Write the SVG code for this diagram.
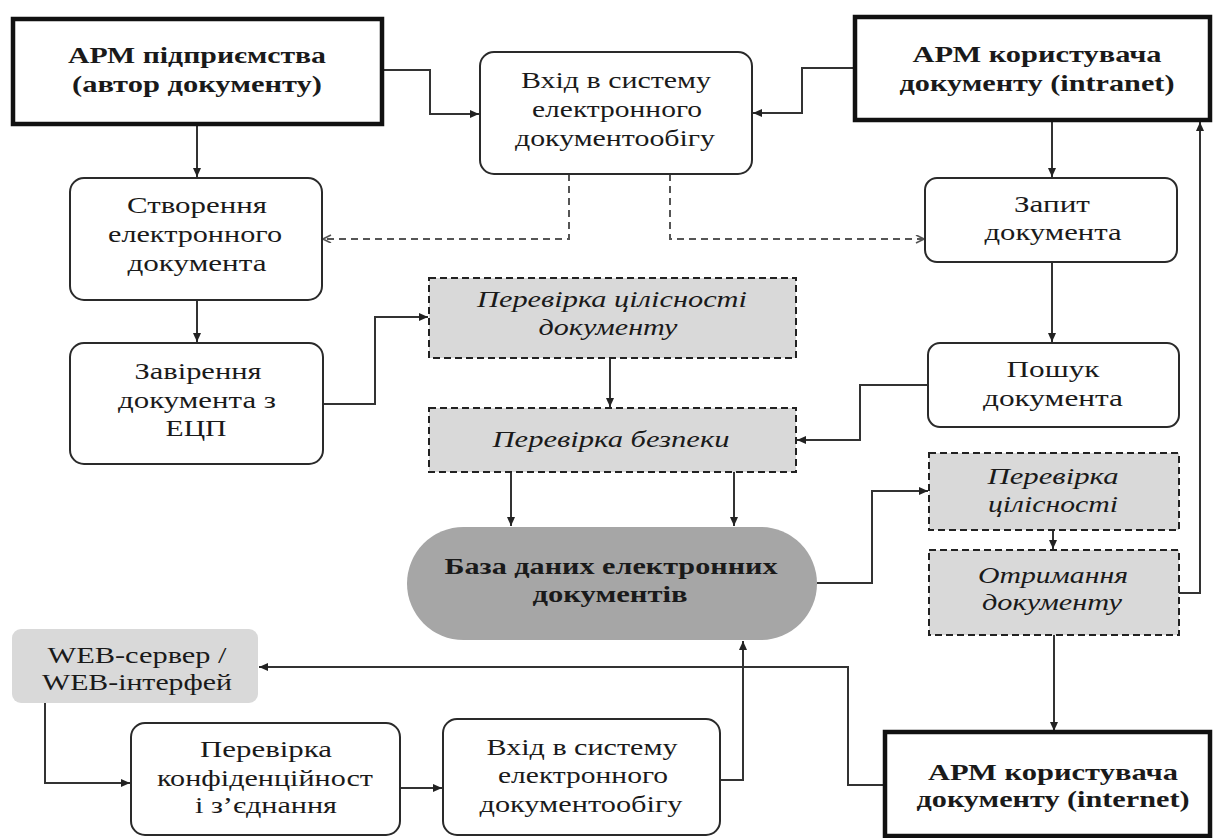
<svg xmlns="http://www.w3.org/2000/svg" width="1213" height="838" viewBox="0 0 1213 838">
  <style>
    .t { font-family: "Liberation Serif", "DejaVu Serif", serif; font-size: 24px; fill: #1a1a1a; text-anchor: middle; }
    .b { font-weight: bold; }
    .i { font-style: italic; }
    .main { fill: #ffffff; stroke: #111111; stroke-width: 4.5; }
    .step { fill: #ffffff; stroke: #2a2a2a; stroke-width: 2; }
    .check { fill: #d9d9d9; stroke: #222222; stroke-width: 2; stroke-dasharray: 7 4; }
    .db { fill: #a6a6a6; }
    .web { fill: #d9d9d9; }
    .ln { fill: none; stroke: #333333; stroke-width: 2; marker-end: url(#arr); }
    .dash { fill: none; stroke: #555555; stroke-width: 2; stroke-dasharray: 7 5; marker-end: url(#arrOpen); }
  </style>
  <defs>
    <marker id="arr" markerUnits="userSpaceOnUse" markerWidth="10" markerHeight="10" refX="9" refY="4" orient="auto">
      <path d="M0,0 L9,4 L0,8 z" fill="#222222"/>
    </marker>
    <marker id="arrOpen" markerUnits="userSpaceOnUse" markerWidth="10" markerHeight="10" refX="9" refY="4" orient="auto">
      <path d="M1,0 L9,4 L1,8" fill="none" stroke="#555555" stroke-width="1.6"/>
    </marker>
  </defs>

  <rect width="1213" height="838" fill="#ffffff"/>

  <!-- connectors -->
  <g id="connectors">
    <path class="ln" d="M382,70 H430 V114 H479"/>
    <path class="ln" d="M855,68 H802 V113 H753"/>
    <path class="dash" d="M569,174 V239 H323"/>
    <path class="dash" d="M670,174 V239 H924"/>
    <path class="ln" d="M197,124 V177"/>
    <path class="ln" d="M197,300 V342"/>
    <path class="ln" d="M323,404 H375 V317 H428"/>
    <path class="ln" d="M610,358 V407"/>
    <path class="ln" d="M1052,120 V177"/>
    <path class="ln" d="M1052,262 V342"/>
    <path class="ln" d="M928,385 H860 V440 H797"/>
    <path class="ln" d="M511,472 V526"/>
    <path class="ln" d="M734,472 V526"/>
    <path class="ln" d="M817,583 H872 V491 H928"/>
    <path class="ln" d="M1053,530 V549"/>
    <path class="ln" d="M1179,593 H1200 V122"/>
    <path class="ln" d="M1054,635 V731"/>
    <path class="ln" d="M885,785 H848 V667 H259"/>
    <path class="ln" d="M45,703 V783 H130"/>
    <path class="ln" d="M400,788 H442"/>
    <path class="ln" d="M720,780 H743 V641"/>
  </g>

  <g id="arm-enterprise">
    <rect class="main" x="13" y="19" width="369" height="105"/>
    <text class="t b" x="197" y="63" textLength="258" lengthAdjust="spacingAndGlyphs">АРМ підприємства</text>
    <text class="t b" x="197" y="92" textLength="250" lengthAdjust="spacingAndGlyphs">(автор документу)</text>
  </g>

  <g id="login-top">
    <rect class="step" x="480" y="52" width="272" height="122" rx="14"/>
    <text class="t" x="616" y="88" textLength="190" lengthAdjust="spacingAndGlyphs">Вхід в систему</text>
    <text class="t" x="617" y="117" textLength="170" lengthAdjust="spacingAndGlyphs">електронного</text>
    <text class="t" x="615" y="146" textLength="200" lengthAdjust="spacingAndGlyphs">документообігу</text>
  </g>

  <g id="arm-intranet">
    <rect class="main" x="855" y="17" width="355" height="103"/>
    <text class="t b" x="1037" y="62" textLength="249" lengthAdjust="spacingAndGlyphs">АРМ користувача</text>
    <text class="t b" x="1037" y="91" textLength="275" lengthAdjust="spacingAndGlyphs">документу (intranet)</text>
  </g>

  <g id="request">
    <rect class="step" x="925" y="178" width="252" height="84" rx="12"/>
    <text class="t" x="1052" y="212" textLength="76" lengthAdjust="spacingAndGlyphs">Запит</text>
    <text class="t" x="1053" y="240" textLength="137" lengthAdjust="spacingAndGlyphs">документа</text>
  </g>

  <g id="create">
    <rect class="step" x="70" y="178" width="252" height="122" rx="14"/>
    <text class="t" x="197" y="213" textLength="140" lengthAdjust="spacingAndGlyphs">Створення</text>
    <text class="t" x="195" y="242" textLength="174" lengthAdjust="spacingAndGlyphs">електронного</text>
    <text class="t" x="197" y="271" textLength="139" lengthAdjust="spacingAndGlyphs">документа</text>
  </g>

  <g id="sign">
    <rect class="step" x="70" y="343" width="253" height="121" rx="14"/>
    <text class="t" x="198" y="379" textLength="127" lengthAdjust="spacingAndGlyphs">Завірення</text>
    <text class="t" x="197" y="408" textLength="158" lengthAdjust="spacingAndGlyphs">документа з</text>
    <text class="t" x="196" y="436" textLength="61" lengthAdjust="spacingAndGlyphs">ЕЦП</text>
  </g>

  <g id="integrity-doc">
    <rect class="check" x="429" y="278" width="367" height="80"/>
    <text class="t i" x="612" y="307" textLength="270" lengthAdjust="spacingAndGlyphs">Перевірка цілісності</text>
    <text class="t i" x="608" y="335" textLength="139" lengthAdjust="spacingAndGlyphs">документу</text>
  </g>

  <g id="security">
    <rect class="check" x="429" y="408" width="367" height="64"/>
    <text class="t i" x="611" y="447" textLength="237" lengthAdjust="spacingAndGlyphs">Перевірка безпеки</text>
  </g>

  <g id="database">
    <rect class="db" x="407" y="527" width="410" height="113" rx="56.5"/>
    <text class="t b" x="611" y="574" textLength="333" lengthAdjust="spacingAndGlyphs">База даних електронних</text>
    <text class="t b" x="610" y="602" textLength="155" lengthAdjust="spacingAndGlyphs">документів</text>
  </g>

  <g id="search">
    <rect class="step" x="928" y="343" width="251" height="84" rx="12"/>
    <text class="t" x="1053" y="377" textLength="93" lengthAdjust="spacingAndGlyphs">Пошук</text>
    <text class="t" x="1053" y="406" textLength="140" lengthAdjust="spacingAndGlyphs">документа</text>
  </g>

  <g id="integrity">
    <rect class="check" x="929" y="453" width="250" height="77"/>
    <text class="t i" x="1053" y="484" textLength="131" lengthAdjust="spacingAndGlyphs">Перевірка</text>
    <text class="t i" x="1053" y="512" textLength="130" lengthAdjust="spacingAndGlyphs">цілісності</text>
  </g>

  <g id="receive">
    <rect class="check" x="929" y="550" width="250" height="85"/>
    <text class="t i" x="1053" y="583" textLength="150" lengthAdjust="spacingAndGlyphs">Отримання</text>
    <text class="t i" x="1052" y="610" textLength="140" lengthAdjust="spacingAndGlyphs">документу</text>
  </g>

  <g id="arm-internet">
    <rect class="main" x="885" y="732" width="325" height="104"/>
    <text class="t b" x="1053" y="780" textLength="250" lengthAdjust="spacingAndGlyphs">АРМ користувача</text>
    <text class="t b" x="1053" y="807" textLength="273" lengthAdjust="spacingAndGlyphs">документу (internet)</text>
  </g>

  <g id="web-server">
    <rect class="web" x="12" y="629" width="246" height="74" rx="9"/>
    <text class="t" x="137" y="663" textLength="179" lengthAdjust="spacingAndGlyphs">WEB-сервер /</text>
    <text class="t" x="137" y="690" textLength="190" lengthAdjust="spacingAndGlyphs">WEB-інтерфей</text>
  </g>

  <g id="confidentiality">
    <rect class="step" x="131" y="723" width="269" height="112" rx="14"/>
    <text class="t" x="266" y="757" textLength="132" lengthAdjust="spacingAndGlyphs">Перевірка</text>
    <text class="t" x="265" y="786" textLength="216" lengthAdjust="spacingAndGlyphs">конфіденційност</text>
    <text class="t" x="266" y="813" textLength="142" lengthAdjust="spacingAndGlyphs">і з’єднання</text>
  </g>

  <g id="login-bottom">
    <rect class="step" x="443" y="719" width="277" height="116" rx="14"/>
    <text class="t" x="582" y="755" textLength="191" lengthAdjust="spacingAndGlyphs">Вхід в  систему</text>
    <text class="t" x="583" y="783" textLength="170" lengthAdjust="spacingAndGlyphs">електронного</text>
    <text class="t" x="581" y="812" textLength="203" lengthAdjust="spacingAndGlyphs">документообігу</text>
  </g>
</svg>
